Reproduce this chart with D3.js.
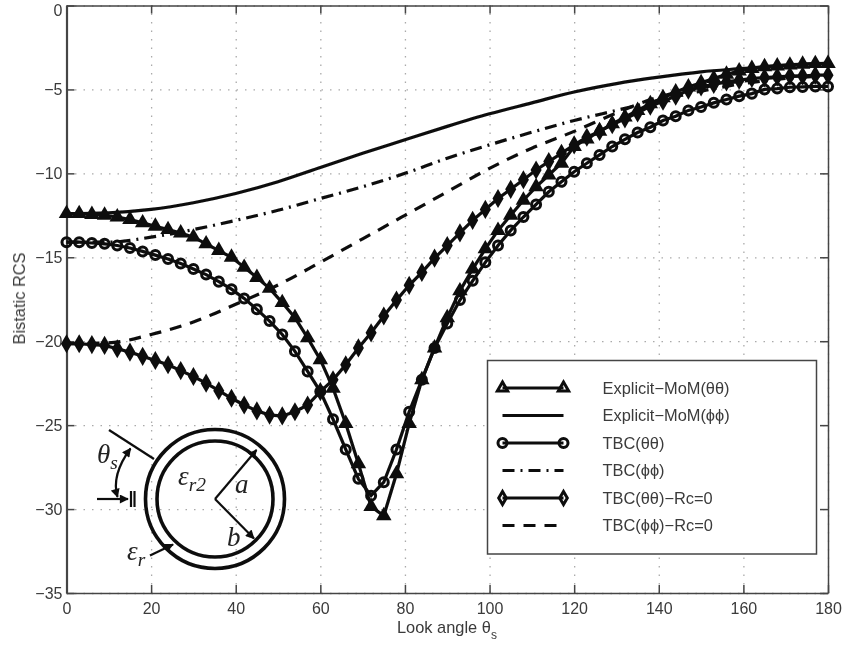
<!DOCTYPE html>
<html>
<head>
<meta charset="utf-8">
<script src="https://cdn.jsdelivr.net/npm/d3@7"></script>
<style>
  html, body { margin: 0; padding: 0; background: #fff; }
  svg { display: block; }
  text { font-family: "Liberation Sans", sans-serif; fill: #3a3a3a; }
  .serif { font-family: "Liberation Serif", serif; font-style: italic; fill: #222; }
</style>
</head>
<body>
<div id="chart"></div>
<script>
// marked curves are sampled every 3 degrees
var angles3 = d3.range(0, 181, 3);
var momTheta = [-12.4, -12.4, -12.45, -12.5, -12.6, -12.75, -12.95, -13.15, -13.35, -13.55,
  -13.8, -14.2, -14.6, -15.0, -15.6, -16.2, -16.85, -17.7, -18.6, -19.8,
  -21.1, -22.8, -24.9, -27.3, -29.85, -30.4, -27.9, -24.9, -22.3, -20.4,
  -18.6, -17.0, -15.7, -14.5, -13.4, -12.5, -11.6, -10.8, -10.1, -9.4,
  -8.4, -7.95, -7.5, -7.05, -6.65, -6.25, -5.85, -5.5, -5.15, -4.85,
  -4.6, -4.35, -4.1, -3.9, -3.75, -3.65, -3.6, -3.55, -3.5, -3.46, -3.45];
var tbcTheta = [-14.1, -14.1, -14.15, -14.2, -14.3, -14.45, -14.65, -14.87, -15.1, -15.37,
  -15.7, -16.03, -16.45, -16.9, -17.45, -18.1, -18.8, -19.6, -20.6, -21.8,
  -23.0, -24.65, -26.45, -28.2, -29.2, -28.4, -26.45, -24.2, -22.3, -20.4,
  -18.95, -17.55, -16.4, -15.3, -14.3, -13.4, -12.6, -11.85, -11.1, -10.5,
  -9.9, -9.4, -8.9, -8.4, -7.97, -7.57, -7.25, -6.85, -6.6, -6.25,
  -6.05, -5.8, -5.6, -5.4, -5.25, -5.0, -4.95, -4.87, -4.85, -4.82, -4.82];
var rc0Theta = [-20.15, -20.15, -20.2, -20.25, -20.45, -20.65, -20.9, -21.15, -21.4, -21.75,
  -22.1, -22.5, -22.95, -23.4, -23.8, -24.15, -24.4, -24.45, -24.2, -23.8,
  -23.0, -22.3, -21.4, -20.4, -19.5, -18.5, -17.55, -16.67, -15.9, -15.05,
  -14.3, -13.55, -12.8, -12.15, -11.5, -10.95, -10.38, -9.8, -9.3, -8.8,
  -8.3, -7.85, -7.5, -7.1, -6.75, -6.4, -6.0, -5.7, -5.4, -5.05,
  -4.85, -4.7, -4.55, -4.45, -4.35, -4.3, -4.25, -4.2, -4.2, -4.15, -4.15];

// plain curves, read every 10 degrees
var angles10 = d3.range(0, 181, 10);
var momPhi = [-12.4, -12.35, -12.15, -11.75, -11.2, -10.5, -9.65, -8.8, -8.0, -7.2,
  -6.45, -5.8, -5.15, -4.65, -4.27, -3.95, -3.75, -3.55, -3.45];
var tbcPhi = [-14.1, -14.1, -13.8, -13.35, -12.8, -12.2, -11.5, -10.8, -10.0, -9.1,
  -8.3, -7.55, -6.85, -6.25, -5.65, -5.1, -4.65, -4.35, -4.2];
var rc0Phi = [-20.15, -20.1, -19.6, -18.85, -17.8, -16.65, -15.3, -13.9, -12.5, -11.1,
  -9.7, -8.5, -7.5, -6.4, -5.45, -4.9, -4.5, -4.25, -4.15];

var xTicks = [0, 20, 40, 60, 80, 100, 120, 140, 160, 180];
var yTicks = [0, -5, -10, -15, -20, -25, -30, -35];
var legendLabels = ["Explicit\u2212MoM(\u03b8\u03b8)", "Explicit\u2212MoM(\u03d5\u03d5)", "TBC(\u03b8\u03b8)",
  "TBC(\u03d5\u03d5)", "TBC(\u03b8\u03b8)\u2212Rc=0", "TBC(\u03d5\u03d5)\u2212Rc=0"];

var svgWidth = 844;
var svgHeight = 645;
var margin = { top: 5.5, right: 16, bottom: 52, left: 66.5 };
var width = svgWidth - margin.left - margin.right;
var height = svgHeight - margin.top - margin.bottom;
var ink = "#0c0c0c";

var svg = d3.select("#chart").append("svg")
  .attr("width", svgWidth)
  .attr("height", svgHeight);

// the reference is a soft scan, so everything gets a slight blur
svg.append("defs").append("filter").attr("id", "soft")
  .append("feGaussianBlur").attr("stdDeviation", 0.55);
var defs = svg.select("defs");
defs.append("marker").attr("id", "head")
  .attr("viewBox", "0 0 10 10").attr("refX", 9).attr("refY", 5)
  .attr("markerWidth", 12).attr("markerHeight", 9)
  .attr("markerUnits", "userSpaceOnUse")
  .attr("orient", "auto-start-reverse")
  .append("path").attr("d", "M0,0L10,5L0,10z").attr("fill", ink);

var page = svg.append("g").attr("filter", "url(#soft)");
var chartGroup = page.append("g")
  .attr("transform", `translate(${margin.left}, ${margin.top})`);

var x = d3.scaleLinear().domain([0, 180]).range([0, width]);
var y = d3.scaleLinear().domain([-35, 0]).range([height, 0]);

// grid
chartGroup.append("g")
  .attr("class", "grid")
  .attr("transform", `translate(0, ${height})`)
  .call(d3.axisBottom(x).tickValues(xTicks).tickSize(-height).tickFormat(""));
chartGroup.append("g")
  .attr("class", "grid")
  .call(d3.axisLeft(y).tickValues(yTicks).tickSize(-width).tickFormat(""));
chartGroup.selectAll(".grid .domain").remove();
chartGroup.selectAll(".grid line")
  .attr("stroke", "#aaa")
  .attr("stroke-width", 1.3)
  .attr("stroke-dasharray", "1.5 7");

// axes
var xAxis = chartGroup.append("g")
  .attr("transform", `translate(0, ${height})`)
  .call(d3.axisBottom(x).tickValues(xTicks).tickSizeInner(-8).tickSizeOuter(0).tickPadding(9.5));
var yAxis = chartGroup.append("g")
  .call(d3.axisLeft(y).tickValues(yTicks).tickSizeInner(-8).tickSizeOuter(0).tickPadding(4)
    .tickFormat(d => String(d).replace("-", "\u2212")));
var rightAxis = chartGroup.append("g")
  .attr("transform", `translate(${width}, 0)`)
  .call(d3.axisRight(y).tickValues(yTicks).tickSizeInner(-8).tickSizeOuter(0).tickFormat(""));
var topAxis = chartGroup.append("g")
  .call(d3.axisTop(x).tickValues(xTicks).tickSizeInner(-8).tickSizeOuter(0).tickFormat(""));
[xAxis, yAxis, rightAxis, topAxis].forEach(function(a) {
  a.selectAll("path, line").attr("stroke", "#444").attr("stroke-width", 1.5);
  a.selectAll("text").style("font-size", "16px").style("font-family", '"Liberation Sans", sans-serif').attr("fill", "#3a3a3a");
});
yAxis.select(".domain").attr("stroke-width", 2.2);
// keep the top "0" inside the page
yAxis.selectAll(".tick text").filter(d => d === 0).attr("y", 1.5).attr("dy", "0.5em");

var lineGen = d3.line().x(d => x(d[0])).y(d => y(d[1]));
var smoothGen = d3.line().x(d => x(d[0])).y(d => y(d[1])).curve(d3.curveMonotoneX);

function zipped(xs, ys) {
  return xs.map((v, i) => [v, ys[i]]);
}

var dashDot = "12 6 2 6";
var dashed = "12 9";

// plain lines first, marked curves on top
function plainLine(xs, ys, dash) {
  chartGroup.append("path")
    .datum(zipped(xs, ys))
    .attr("d", smoothGen)
    .attr("fill", "none")
    .attr("stroke", ink)
    .attr("stroke-width", 3.2)
    .attr("stroke-dasharray", dash);
}
plainLine(angles10, momPhi, null);
plainLine(angles10, tbcPhi, dashDot);
plainLine(angles10, rc0Phi, dashed);

var triangle = d3.symbol().type(d3.symbolTriangle).size(46);
var diamond = d3.symbol().type(d3.symbolDiamond).size(50);
var ring = d3.symbol().type(d3.symbolCircle).size(64);

// in the plot the triangles and diamonds print almost solid, only the legend shows them open
function markedLine(ys, sym, fill) {
  var pts = zipped(angles3, ys);
  chartGroup.append("path")
    .datum(pts)
    .attr("d", lineGen)
    .attr("fill", "none")
    .attr("stroke", ink)
    .attr("stroke-width", 3.2);
  chartGroup.append("g").selectAll("path")
    .data(pts)
    .enter()
    .append("path")
    .attr("transform", d => `translate(${x(d[0])}, ${y(d[1])})`)
    .attr("d", sym)
    .attr("fill", fill)
    .attr("stroke", ink)
    .attr("stroke-width", 3);
}
markedLine(tbcTheta, ring, "none");
markedLine(rc0Theta, diamond, ink);
markedLine(momTheta, triangle, ink);

// axis labels
var xLabel = page.append("text")
  .attr("x", 397).attr("y", 633)
  .style("font-size", "16.4px");
xLabel.append("tspan").text("Look angle \u03b8");
xLabel.append("tspan").attr("dy", 6).style("font-size", "12px").text("s");

page.append("text")
  .attr("transform", "translate(25, 298.5) rotate(-90)")
  .style("text-anchor", "middle")
  .style("font-size", "16.4px")
  .text("Bistatic RCS");

// legend
var legend = page.append("g").attr("transform", "translate(487.5, 360.5)");
legend.append("rect")
  .attr("width", 329).attr("height", 193.5)
  .attr("fill", "#fff").attr("stroke", "#444").attr("stroke-width", 1.5);

var legendStyles = [
  { sym: triangle, dash: null },
  { sym: null, dash: null },
  { sym: ring, dash: null },
  { sym: null, dash: dashDot },
  { sym: diamond, dash: null },
  { sym: null, dash: dashed }
];
legendLabels.forEach(function(label, i) {
  var rowY = 27.5 + i * 27.5;
  var st = legendStyles[i];
  legend.append("line")
    .attr("x1", 15).attr("x2", 76).attr("y1", rowY).attr("y2", rowY)
    .attr("stroke", ink).attr("stroke-width", 3.2)
    .attr("stroke-dasharray", st.dash);
  if (st.sym) {
    [15, 76].forEach(function(px) {
      legend.append("path")
        .attr("transform", `translate(${px}, ${rowY})`)
        .attr("d", st.sym)
        .attr("fill", "none").attr("stroke", ink).attr("stroke-width", 3);
    });
  }
  legend.append("text")
    .attr("x", 115).attr("y", rowY + 5.5)
    .style("font-size", "16.4px")
    .text(label);
});

// cross-section sketch, positions relative to its centre
var sketch = page.append("g").attr("transform", "translate(215, 499)");
[69.5, 58].forEach(function(r) {
  sketch.append("circle").attr("r", r)
    .attr("fill", "none").attr("stroke", ink).attr("stroke-width", 3.6);
});
function sketchLine(x1, y1, x2, y2, arrow) {
  var l = sketch.append("line")
    .attr("x1", x1).attr("y1", y1).attr("x2", x2).attr("y2", y2)
    .attr("stroke", ink).attr("stroke-width", 2.2);
  if (arrow) l.attr("marker-end", "url(#head)");
}
sketchLine(0, 0, 41.5, -49, true);
sketchLine(0, 0, 39, 39.5, true);
sketchLine(-106, -69, -61, -40, false);
sketchLine(-118, 0, -87, 0, true);
sketchLine(-84, -8, -84, 8, false);
sketchLine(-80.5, -8, -80.5, 8, false);
sketchLine(-65, 56.5, -42, 45.5, true);
sketch.append("path")
  .attr("d", "M-84.5,-50.5Q-104,-24 -97.5,-2")
  .attr("fill", "none").attr("stroke", ink).attr("stroke-width", 2.2)
  .attr("marker-start", "url(#head)").attr("marker-end", "url(#head)");

function sketchLabel(px, py, main, sub, size) {
  var t = sketch.append("text").attr("class", "serif")
    .attr("x", px).attr("y", py).style("font-size", size + "px");
  t.append("tspan").text(main);
  if (sub) t.append("tspan").attr("dy", 6).style("font-size", (size * 0.72) + "px").text(sub);
}
sketchLabel(-118, -36, "\u03b8", "s", 27);
sketchLabel(-37, -14, "\u03b5", "r2", 27);
sketchLabel(-88, 61, "\u03b5", "r", 27);
sketchLabel(20, -6, "a", null, 27);
sketchLabel(12, 47, "b", null, 27);
</script>
</body>
</html>
